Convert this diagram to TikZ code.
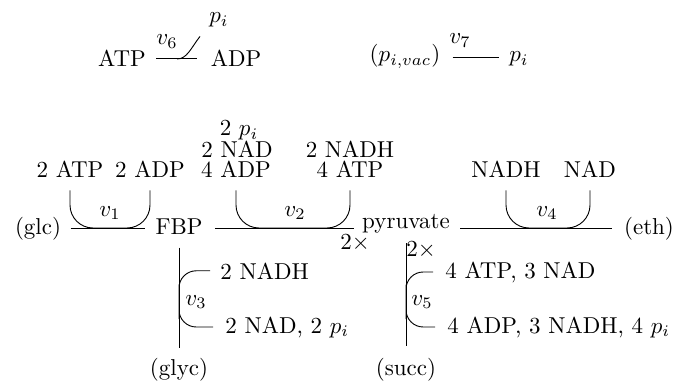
\documentclass[tikz,border=0pt]{standalone}
\usetikzlibrary{calc}
\begin{document}
\begin{tikzpicture}[x=0.435pt,y=-0.435pt,
  lab/.style={inner sep=0pt,anchor=base},
  met/.style={inner sep=0pt,text height=8.5pt,text depth=2.5pt},
  topm/.style={inner sep=0pt,anchor=base,text height=6.5pt,text depth=2.5pt},
  cof/.style={rounded corners=10pt},
  brk/.style={rounded corners=7.5pt}]
\useasboundingbox (0,0) rectangle (674,380);

% ---- top row: v6
\node[lab] (atp6) at (122,67) {ATP};
\node[lab] (adp6) at (236,67) {ADP};
\node[lab] (v6) at (167,45) {$v_6$};
\node[lab] (pi6) at (219,23) {$p_i$};
\draw[shorten <=4.35pt, shorten >=5.6pt] (atp6.east) -- (adp6.west);
\coordinate (b6) at (177,59);
\draw (b6) .. controls (187,59) and (191,48) .. ([xshift=-3.9pt,yshift=-3.7pt]pi6.south west);

% ---- top row: v7
\node[topm] (pvac) at (405,62) {$(p_{i,vac})$};
\node[topm] (pi7) at (519,62) {$p_i$};
\node[lab] (v7) at (460,44) {$v_7$};
\draw[shorten <=5.2pt, shorten >=4.35pt] (pvac.east) -- (pi7.west);

% ---- main chain
\node[met] (glc) at (38,228) {(glc)};
\node[met] (FBP) at (179,228) {FBP};
\node[met,anchor=base] (pyr) at (406,228) {pyruvate};
\node[met] (eth) at (649,228) {(eth)};
\draw[shorten <=4pt, shorten >=4.35pt] (glc.east) -- (FBP.west);
\draw[shorten <=5.2pt, shorten >=3.5pt] (FBP.east) -- (pyr.west |- FBP.east);
\draw[shorten <=4.35pt, shorten >=5.2pt] (pyr.east |- eth.west) -- (eth.west);

% ---- v1
\node[lab] (atp1) at (70,178) {2 ATP};
\node[lab] (adp1) at (150,178) {2 ADP};
\node[lab] (v1) at (110,216) {$v_1$};
\draw[cof] ([yshift=-5.2pt]atp1.south) |- (v1.center |- FBP.west) -| ([yshift=-5.2pt]adp1.south);

% ---- v2
\node[lab] (pi2) at (239,136) {2 $p_i$};
\node[lab] (nad2) at (237,158) {2 NAD};
\node[lab] (adp2) at (236,178) {4 ADP};
\node[lab] (nadh2) at (350,158) {2 NADH};
\node[lab] (atp2) at (350,178) {4 ATP};
\node[lab] (v2) at (295,216) {$v_2$};
\draw[cof] ([yshift=-5.2pt]adp2.south) |- (v2.center |- FBP.east) -| ([yshift=-5.2pt]atp2.south);
\node[lab] (m2) at (355,249) {$2\times$};

% ---- v4
\node[lab] (nadh4) at (506,178) {NADH};
\node[lab] (nad4) at (590,178) {NAD};
\node[lab] (v4) at (547,216) {$v_4$};
\draw[cof] ([yshift=-5.2pt]nadh4.south) |- (v4.center |- eth.west) -| ([yshift=-5.2pt]nad4.south);

% ---- v3
\node[met] (glyc) at (179,369) {(glyc)};
\draw[shorten <=2.8pt, shorten >=3.65pt] (FBP.south) -- (glyc.north);
\node[lab,anchor=base west] (t3a) at (220,279) {2 NADH};
\node[lab,anchor=base west] (t3b) at (225,333) {2 NAD, 2 $p_i$};
\node[lab] (v3) at (196,305) {$v_3$};
\draw[brk] ([xshift=-4.35pt]t3a.west) -| (FBP.south |- v3.west) |- ([xshift=-5.2pt]t3b.west);

% ---- v5
\node[met] (succ) at (406,369) {(succ)};
\draw[shorten <=4pt, shorten >=4.1pt] (pyr.south) -- (succ.north);
\node[lab] (m5) at (421,256) {$2\times$};
\node[lab,anchor=base west] (t5a) at (445,278) {4 ATP, 3 NAD};
\node[lab,anchor=base west] (t5b) at (447,333) {4 ADP, 3 NADH, 4 $p_i$};
\node[lab] (v5) at (422,305) {$v_5$};
\draw[brk] ([xshift=-5.2pt]t5a.west) -| (pyr.south |- v5.west) |- ([xshift=-5.2pt]t5b.west);
\end{tikzpicture}
\end{document}
